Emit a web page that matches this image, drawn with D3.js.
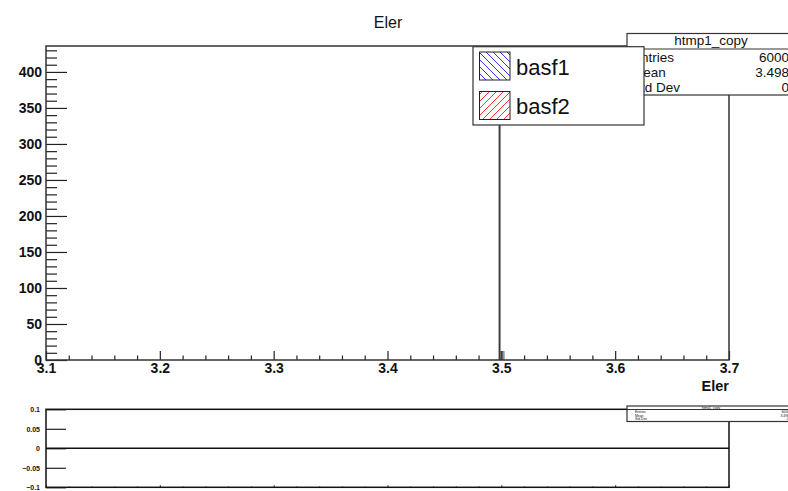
<!DOCTYPE html>
<html>
<head>
<meta charset="utf-8">
<script src="https://cdn.jsdelivr.net/npm/d3@7/dist/d3.min.js"></script>
<style>
  html, body { margin: 0; padding: 0; background: #fff; }
  svg { display: block; font-family: "Liberation Sans", Arial, sans-serif; }
</style>
</head>
<body>
<svg id="chart" width="788" height="491"></svg>
<script>
// ---------------- data ----------------
const title = "Eler";
const xTitle = "Eler";
const xDomain = [3.1, 3.7];
const yDomain = [0, 436];
const ratioDomain = [-0.1, 0.1];
const yMajorTicks = [0, 50, 100, 150, 200, 250, 300, 350, 400];
const xMajorTicks = [3.1, 3.2, 3.3, 3.4, 3.5, 3.6, 3.7];
const ratioTicks = [-0.1, -0.05, 0, 0.05, 0.1];
const ratioTickLabels = ["\u22120.1", "\u22120.05", "0", "0.05", "0.1"];
// histogram bins: [low edge, high edge, count]
const basf1Lo = [3.4976];
const basf1Hi = [3.4993];
const basf1Counts = [5988];
const basf2Lo = [3.4993];
const basf2Hi = [3.5025];
const basf2Counts = [12];
const legendLabels = ["basf1", "basf2"];
const legendColors = ["#3333ff", "#ff3333"];
const statsName = "htmp1_copy";
const statsKeys = ["Entries", "Mean", "Std Dev"];
const statsVals = ["6000", "3.498", "0"];
const ratioValue = [0];

// ---------------- layout ----------------
const svg = d3.select("#chart");
const W = 788, H = 491;
const F = { l: 46, r: 729, t: 46, b: 360 };
const R = { l: 46, r: 729, t: 409.3, b: 487.3 };
const frameColor = "#333";
const FONT = "Liberation Sans, Arial, sans-serif";

const defs = svg.append("defs");
function hatch(id, color, dir) {
  const p = defs.append("pattern").attr("id", id)
    .attr("patternUnits", "userSpaceOnUse").attr("width", 7).attr("height", 7);
  const d = dir === "back"
    ? "M-1,-1 L1,1 M0,0 L7,7 M6,6 L8,8"
    : "M-1,1 L1,-1 M0,7 L7,0 M6,8 L8,6";
  p.append("path").attr("d", d).attr("stroke", color).attr("stroke-width", 1);
}
hatch("h1", legendColors[0], "back");
hatch("h2", legendColors[1], "fwd");
defs.append("clipPath").attr("id", "clipMain").append("rect")
  .attr("x", F.l).attr("y", F.t).attr("width", F.r - F.l).attr("height", F.b - F.t);

const x = d3.scaleLinear().domain(xDomain).range([F.l, F.r]);
const y = d3.scaleLinear().domain(yDomain).range([F.b, F.t]);
const yr = d3.scaleLinear().domain(ratioDomain).range([R.b, R.t]);

// title
svg.append("text").attr("x", 388).attr("y", 28).attr("text-anchor", "middle")
  .attr("font-size", 16).attr("fill", "#111").text(title);

// ---------------- main pad ----------------
const gHist = svg.append("g").attr("clip-path", "url(#clipMain)");
gHist.selectAll("rect.b2").data(basf2Counts).join("rect").attr("class", "b2")
  .attr("x", (d, i) => x(basf2Lo[i])).attr("width", (d, i) => x(basf2Hi[i]) - x(basf2Lo[i]))
  .attr("y", d => y(d)).attr("height", d => y(0) - y(d))
  .attr("fill", "#9a9a9a").attr("stroke", "#777").attr("stroke-width", 0.6);
gHist.selectAll("rect.b1").data(basf1Counts).join("rect").attr("class", "b1")
  .attr("x", (d, i) => x(basf1Lo[i])).attr("width", (d, i) => x(basf1Hi[i]) - x(basf1Lo[i]))
  .attr("y", d => y(d)).attr("height", d => y(0) - y(d))
  .attr("fill", "#3a3a3a");

// y axis
const yMinor = d3.range(0, 436, 10).filter(v => v % 50 !== 0);
svg.append("g").attr("transform", `translate(${F.l},0)`)
  .call(d3.axisLeft(y).tickValues(yMinor).tickFormat("").tickSizeInner(-11).tickSizeOuter(0))
  .call(g => g.select(".domain").remove())
  .call(g => g.selectAll("line").attr("stroke", "#222").attr("stroke-width", 1.2));
svg.append("g").attr("transform", `translate(${F.l},0)`)
  .call(d3.axisLeft(y).tickValues(yMajorTicks).tickFormat(d3.format("d")).tickSizeInner(-21).tickSizeOuter(0).tickPadding(4))
  .call(g => g.select(".domain").remove())
  .call(g => g.selectAll("line").attr("stroke", "#222").attr("stroke-width", 1.2))
  .call(g => g.selectAll("text").attr("font-size", 14).attr("font-weight", "bold")
    .attr("fill", "#111").attr("font-family", FONT));

// x axis
const xMinor = d3.range(0, 31).map(i => 3.1 + i * 0.02).filter((v, i) => i % 5 !== 0);
svg.append("g").attr("transform", `translate(0,${F.b})`)
  .call(d3.axisBottom(x).tickValues(xMinor).tickFormat("").tickSizeInner(-4.5).tickSizeOuter(0))
  .call(g => g.select(".domain").remove())
  .call(g => g.selectAll("line").attr("stroke", "#222").attr("stroke-width", 1.2));
svg.append("g").attr("transform", `translate(0,${F.b})`)
  .call(d3.axisBottom(x).tickValues(xMajorTicks).tickFormat(d3.format(".1f")).tickSizeInner(-9).tickSizeOuter(0).tickPadding(3))
  .call(g => g.select(".domain").remove())
  .call(g => g.selectAll("line").attr("stroke", "#222").attr("stroke-width", 1.2))
  .call(g => g.selectAll("text").attr("font-size", 14).attr("font-weight", "bold")
    .attr("fill", "#111").attr("font-family", FONT));

svg.append("text").attr("x", F.r).attr("y", 391).attr("text-anchor", "end")
  .attr("font-size", 14.5).attr("font-weight", "bold").attr("fill", "#111").text(xTitle);

// frame
svg.append("rect").attr("x", F.l).attr("y", F.t).attr("width", F.r - F.l).attr("height", F.b - F.t)
  .attr("fill", "none").attr("stroke", frameColor).attr("stroke-width", 1.5);

// stats box
function statsBox(x0, y0, y1, sep, fs, titleY, rowY, keyX, valX) {
  const g = svg.append("g");
  g.append("rect").attr("x", x0).attr("y", y0).attr("width", W + 10 - x0).attr("height", y1 - y0)
    .attr("fill", "#fff").attr("stroke", frameColor).attr("stroke-width", 1.2);
  g.append("line").attr("x1", x0).attr("x2", W + 10).attr("y1", sep).attr("y2", sep)
    .attr("stroke", frameColor).attr("stroke-width", 1);
  g.append("text").attr("x", 711).attr("y", titleY).attr("text-anchor", "middle")
    .attr("font-size", fs).attr("fill", "#111").text(statsName);
  statsKeys.forEach((k, i) => {
    g.append("text").attr("x", keyX).attr("y", rowY[i]).attr("font-size", fs).attr("fill", "#111").text(k);
    g.append("text").attr("x", valX).attr("y", rowY[i]).attr("text-anchor", "end")
      .attr("font-size", fs).attr("fill", "#111").text(statsVals[i]);
  });
}
statsBox(627, 33.5, 95, 49, 13.5, 45, [61.5, 76.5, 92], 632, 789);

// legend
const lg = svg.append("g");
lg.append("rect").attr("x", 473).attr("y", 46.7).attr("width", 171).attr("height", 78.3)
  .attr("fill", "#fff").attr("stroke", frameColor).attr("stroke-width", 1.2);
legendLabels.forEach((lab, i) => {
  const yy = 52 + i * 39.5;
  lg.append("rect").attr("x", 479.5).attr("y", yy).attr("width", 30.5).attr("height", 28)
    .attr("fill", `url(#h${i + 1})`).attr("stroke", "#222").attr("stroke-width", 1);
  lg.append("text").attr("x", 516).attr("y", 75 + i * 38.5).attr("font-size", 22)
    .attr("fill", "#111").text(lab);
});

// ---------------- ratio pad ----------------
svg.append("g").attr("transform", `translate(${R.l},0)`)
  .call(d3.axisLeft(yr).tickValues(ratioTicks).tickFormat((d, i) => ratioTickLabels[i])
    .tickSizeInner(-20).tickSizeOuter(0).tickPadding(6))
  .call(g => g.select(".domain").remove())
  .call(g => g.selectAll("line").attr("stroke", "#222").attr("stroke-width", 1.2))
  .call(g => g.selectAll("text").attr("font-size", 7).attr("font-weight", "bold")
    .attr("fill", "#111").attr("font-family", FONT));
svg.append("g").attr("transform", `translate(0,${R.b})`)
  .call(d3.axisBottom(x).tickValues(xMinor).tickFormat("").tickSizeInner(-1).tickSizeOuter(0))
  .call(g => g.select(".domain").remove())
  .call(g => g.selectAll("line").attr("stroke", "#555").attr("stroke-width", 1));
svg.append("g").attr("transform", `translate(0,${R.b})`)
  .call(d3.axisBottom(x).tickValues(xMajorTicks).tickFormat("").tickSizeInner(-2.2).tickSizeOuter(0))
  .call(g => g.select(".domain").remove())
  .call(g => g.selectAll("line").attr("stroke", "#333").attr("stroke-width", 1));

svg.selectAll("line.zero").data(ratioValue).join("line").attr("class", "zero")
  .attr("x1", R.l).attr("x2", R.r).attr("y1", d => yr(d)).attr("y2", d => yr(d))
  .attr("stroke", "#111").attr("stroke-width", 1.6);

svg.append("rect").attr("x", R.l).attr("y", R.t).attr("width", R.r - R.l).attr("height", R.b - R.t)
  .attr("fill", "none").attr("stroke", "#111").attr("stroke-width", 1.5);

statsBox(627, 406, 421.5, 409.5, 3.4, 409, [413, 416.5, 420], 635, 789);
</script>
</body>
</html>
